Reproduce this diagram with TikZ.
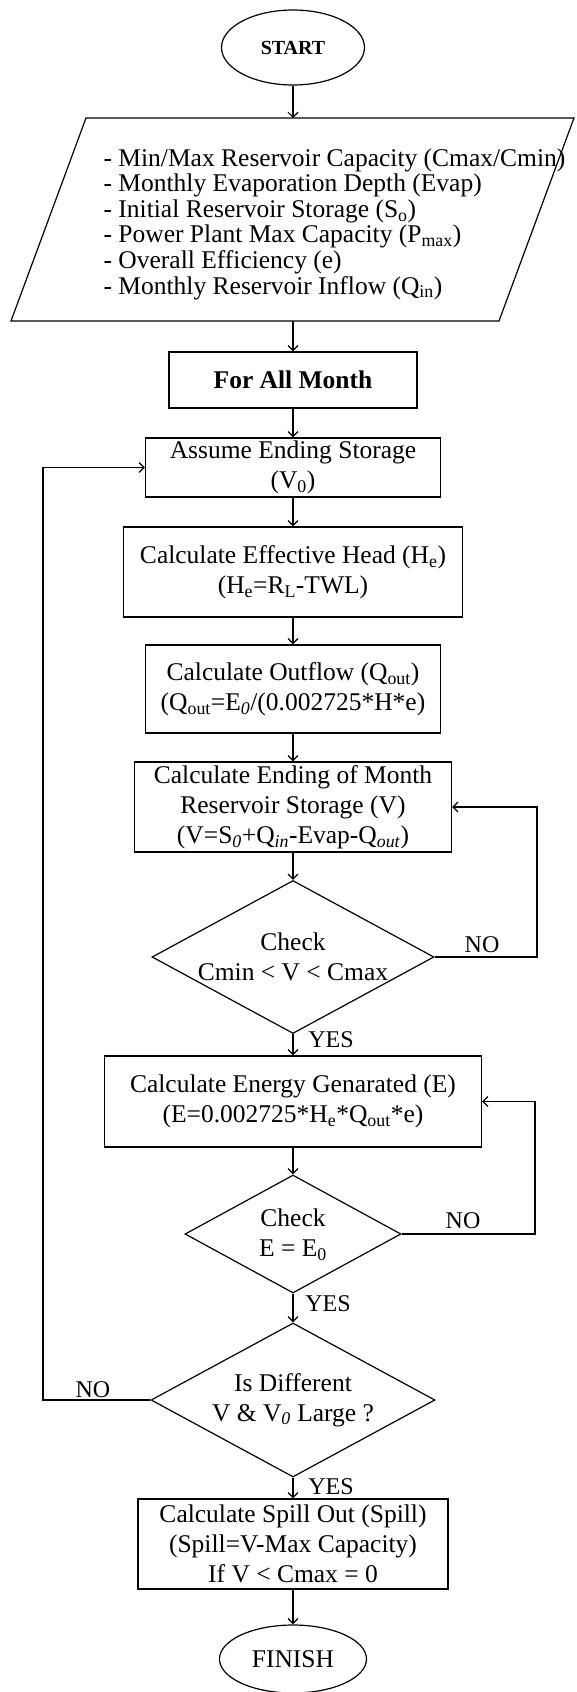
\documentclass[tikz,border=0pt]{standalone}
\usepackage{fontspec}
\setmainfont{Liberation Serif}
\usetikzlibrary{shapes.geometric,arrows.meta}
\begin{document}
\begin{tikzpicture}[x=1pt,y=-1pt,
  line width=1.2pt,
  every node/.style={font=\fontsize{25.5}{30}\selectfont, inner sep=0pt},
  box/.style={draw, rectangle, align=center},
  term/.style={draw, ellipse},
  dec/.style={draw, diamond},
  conn/.style={-{Straight Barb[length=5pt,width=10pt]}},
  lbl/.style={font=\fontsize{24}{28}\selectfont}
]
\useasboundingbox (0,0) rectangle (576,1692);

% terminals
\node[term, minimum width=143pt, minimum height=75pt, font=\fontsize{20}{24}\selectfont\bfseries] (start) at (293,47.5) {START};

% input parallelogram
\coordinate (pTL) at (86,118);
\coordinate (pTR) at (574,118);
\coordinate (pBR) at (499,321);
\coordinate (pBL) at (11,321);
\draw (pTL) -- (pTR) -- (pBR) -- (pBL) -- cycle;
\coordinate (pTop) at (293,118);
\coordinate (pBot) at (293,321);
\node[align=left, anchor=west, font=\fontsize{25.5}{25.6}\selectfont] (inp) at (103,224) {%
- Min/Max Reservoir Capacity (Cmax/Cmin)\\
- Monthly Evaporation Depth (Evap)\\
- Initial Reservoir Storage (S\textsubscript{o})\\
- Power Plant Max Capacity (P\textsubscript{max})\\
- Overall Efficiency (e)\\
- Monthly Reservoir Inflow (Q\textsubscript{in})};

% process boxes
\node[box, minimum width=248pt, minimum height=56pt, font=\fontsize{25.5}{30}\selectfont\bfseries] (forall) at (293,380) {For All Month};
\node[box, minimum width=295pt, minimum height=59pt] (assume) at (293,467.5) {Assume Ending Storage\\(V\textsubscript{0})};
\node[box, minimum width=339pt, minimum height=90pt] (effhead) at (293,572) {Calculate Effective Head (H\textsubscript{e})\\(H\textsubscript{e}=R\textsubscript{L}-TWL)};
\node[box, minimum width=295pt, minimum height=88pt] (outflow) at (293,689) {Calculate Outflow (Q\textsubscript{out})\\(Q\textsubscript{out}=E\textsubscript{\textit{0}}/(0.002725*H*e)};
\node[box, minimum width=317pt, minimum height=90pt] (ending) at (293,807) {Calculate Ending of Month\\Reservoir Storage (V)\\(V=S\textsubscript{\textit{0}}+Q\textsubscript{\textit{in}}-Evap-Q\textsubscript{\textit{out}})};

% decision 1
\node[dec, minimum width=282pt, minimum height=153pt] (d1) at (293,957) {};
\node[align=center] (d1t) at (293,957) {Check\\Cmin < V < Cmax};

\node[box, minimum width=377pt, minimum height=91pt] (energy) at (293,1101.5) {Calculate Energy Genarated (E)\\(E=0.002725*H\textsubscript{e}*Q\textsubscript{out}*e)};

% decision 2
\node[dec, minimum width=216pt, minimum height=118pt] (d2) at (293,1234) {};
\node[align=center] (d2t) at (293,1235) {Check\\E = E\textsubscript{0}};

% decision 3
\node[dec, minimum width=284pt, minimum height=154pt] (d3) at (293,1400) {};
\node[align=center] (d3t) at (293,1400) {Is Different\\V \& V\textsubscript{\textit{0}} Large ?};

\node[box, minimum width=310pt, minimum height=90pt] (spill) at (293,1544) {Calculate Spill Out (Spill)\\(Spill=V-Max Capacity)\\If V < Cmax = 0};

\node[term, minimum width=147pt, minimum height=68pt] (finish) at (293,1659) {FINISH};

% loop corner coordinates
\coordinate (r1) at (537,957);
\coordinate (r2) at (535,1234);
\coordinate (l3) at (43,1400);

% connectors
\draw[conn] (start) -- (pTop);
\draw[conn] (pBot) -- (forall);
\draw[conn] (forall) -- (assume);
\draw[conn] (assume) -- (effhead);
\draw[conn] (effhead) -- (outflow);
\draw[conn] (outflow) -- (ending);
\draw[conn] (ending) -- (d1);
\draw[conn] (d1) -- (energy);
\draw[conn] (energy) -- (d2);
\draw[conn] (d2) -- (d3);
\draw[conn] (d3) -- (spill);
\draw[conn] (spill) -- (finish);
\draw[conn] (d1.east) -- (r1) |- (ending.east);
\draw[conn] (d2.east) -- (r2) |- (energy.east);
\draw[conn] (d3.west) -- (l3) |- (assume.west);

% labels
\node[lbl] (no1) at (482,945) {NO};
\node[lbl] (yes1) at (331,1040) {YES};
\node[lbl] (no2) at (463,1221) {NO};
\node[lbl] (yes2) at (328,1304) {YES};
\node[lbl] (no3) at (93,1390) {NO};
\node[lbl] (yes3) at (331,1487) {YES};
\end{tikzpicture}
\end{document}
